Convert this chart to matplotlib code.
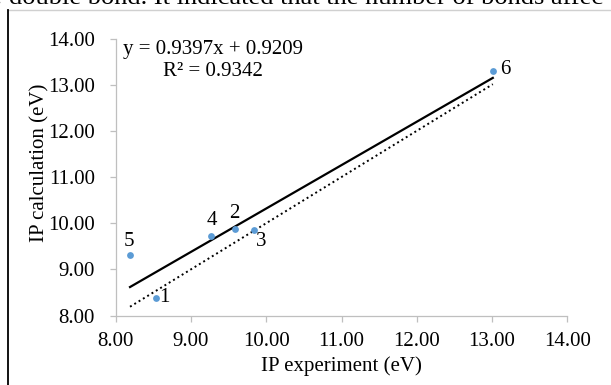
import numpy as np
import matplotlib.pyplot as plt
from matplotlib.lines import Line2D

plt.rcParams['font.family'] = ['Liberation Serif', 'DejaVu Serif']

# values
ip_exp = [8.54, 9.59, 9.84, 9.26, 8.19, 13.01]
ip_calc = [8.38, 9.87, 9.85, 9.73, 9.31, 13.29]
point_labels = ['1', '2', '3', '4', '5', '6']
slope, intercept = 0.9397, 0.9209
r2 = 0.9342
ticks = [8, 9, 10, 11, 12, 13, 14]

# label offsets in points (right/up)
label_offsets = [(6, 0), (-1, 11), (5, -8), (1, 11), (-1, 10), (9, 1)]

fig = plt.figure(figsize=(6.11, 3.85), dpi=100)
ax = fig.add_axes([0.1894, 0.1805, 0.7391, 0.7195])

grey = '#bfbfbf'
x = np.array(ip_exp)
xs = np.array([x.min(), x.max()])

# y = x reference (dotted) and linear trendline (solid)
ax.plot(xs, xs, color='black', linestyle=(0, (1, 1.6)), linewidth=1.4)
ax.plot(xs, slope * xs + intercept, color='black', linewidth=1.6)
ax.scatter(ip_exp, ip_calc, s=24, color='#5b9bd5', zorder=3, linewidths=0)

for xi, yi, lab, off in zip(ip_exp, ip_calc, point_labels, label_offsets):
    ax.annotate(lab, (xi, yi), xytext=off, textcoords='offset points',
                ha='center', va='center', fontsize=15)

ax.text(9.29, 13.52, f'y = {slope}x + {intercept}\nR² = {r2}',
        ha='center', va='center', fontsize=15, multialignment='center',
        linespacing=1.2)

ax.set_xlim(8, 14)
ax.set_ylim(8, 14)
ax.set_xticks(ticks)
ax.set_yticks(ticks)
ax.set_xticklabels([f'{t:.2f}' for t in ticks])
ax.set_yticklabels([f'{t:.2f}' for t in ticks])
ax.tick_params(labelsize=15, color=grey, length=4, width=0.9)
ax.tick_params(axis='x', pad=8)
ax.tick_params(axis='y', pad=11)

for side in ['top', 'right']:
    ax.spines[side].set_visible(False)
for side in ['left', 'bottom']:
    ax.spines[side].set_color(grey)
    ax.spines[side].set_linewidth(0.9)

ax.set_xlabel('IP experiment (eV)', fontsize=15)
ax.set_ylabel('IP calculation (eV)', fontsize=15)
ax.xaxis.set_label_coords(0.5, -0.146)
ax.yaxis.set_label_coords(-0.147, 0.55)

# page frame and the clipped line of document text above the chart
fig.add_artist(Line2D([8 / 611, 1], [1 - 9.5 / 385] * 2, color='#d0d0d0', linewidth=1))
fig.add_artist(Line2D([8.3 / 611] * 2, [0, 1 - 9.5 / 385], color='black', linewidth=1.3))
fig.text(-0.008, 1 - 4 / 385, ': double bond. It indicated that the number of bonds affec',
         fontsize=19, ha='left', va='baseline')

fig.savefig('out.png', dpi=100)
